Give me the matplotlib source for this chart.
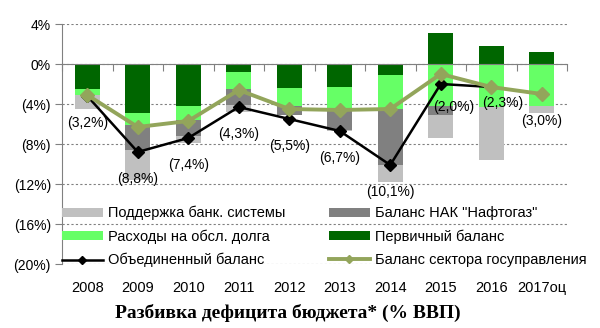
import numpy as np
import matplotlib
matplotlib.use("Agg")
import matplotlib.pyplot as plt

plt.rcParams['font.family'] = ['Liberation Sans', 'DejaVu Sans']

years = ['2008', '2009', '2010', '2011', '2012', '2013', '2014', '2015', '2016', '2017оц']
primary = [-2.5, -4.9, -4.2, -0.8, -2.4, -2.3, -1.1, 3.1, 1.8, 1.2]
debt = [-0.6, -1.2, -1.4, -1.7, -1.8, -2.2, -3.4, -4.2, -4.3, -4.2]
naftogaz = [0.0, -2.5, -1.6, -1.6, -0.9, -2.1, -5.6, -0.9, 0.0, 0.0]
bank = [-1.4, -3.0, -0.7, -0.7, 0.0, -0.1, -1.7, -2.3, -5.3, -0.7]
combined = [-3.2, -8.8, -7.4, -4.3, -5.5, -6.7, -10.1, -2.0, -2.3, np.nan]
gov = [-3.1, -6.3, -5.7, -2.6, -4.5, -4.6, -4.5, -1.0, -2.3, -3.0]
label_vals = [3.2, 8.8, 7.4, 4.3, 5.5, 6.7, 10.1, 2.0, 2.3, 3.0]
label_on = ['c', 'c', 'c', 'c', 'c', 'c', 'c', 'c', 'c', 'g']

c_bank = '#C0C0C0'
c_naft = '#808080'
c_debt = '#66FF66'
c_prim = '#006600'
c_gov = '#93A55B'

fig = plt.figure(figsize=(6, 3.28), dpi=100)
ax = fig.add_axes([62/600, 1 - 264/328, 505/600, 240/328])

x = np.arange(len(years))
w = 0.5
prim = np.array(primary)
base = np.minimum(prim, 0)
ax.bar(x, prim, w, color=c_prim, label='Первичный баланс', zorder=2)
ax.bar(x, debt, w, bottom=base, color=c_debt, label='Расходы на обсл. долга', zorder=2)
base = base + np.array(debt)
ax.bar(x, naftogaz, w, bottom=base, color=c_naft, label='Баланс НАК "Нафтогаз"', zorder=2)
base = base + np.array(naftogaz)
ax.bar(x, bank, w, bottom=base, color=c_bank, label='Поддержка банк. системы', zorder=2)

ax.plot(x, combined, color='black', lw=1.8, marker='D', ms=6.5, label='Объединенный баланс', zorder=3)
ax.plot(x, gov, color=c_gov, lw=2.8, marker='D', ms=7.5, label='Баланс сектора госуправления', zorder=4)

offsets = [(0, -27)] * 7 + [(13, -23), (11, -16), (0, -27)]
for i, v in enumerate(label_vals):
    yv = combined[i] if label_on[i] == 'c' else gov[i]
    txt = '(' + f'{v:.1f}'.replace('.', ',') + '%)'
    ax.annotate(txt, (x[i], yv), xytext=offsets[i], textcoords='offset pixels',
                ha='center', va='center', fontsize=10, zorder=5)

ax.set_xlim(-0.5, len(years) - 0.5)
ax.set_ylim(-20, 4)
yt = [4, 0, -4, -8, -12, -16, -20]
ax.set_yticks(yt, [f'{v}%' if v >= 0 else f'({-v}%)' for v in yt])
ax.tick_params(axis='y', length=5, color='#808080', labelsize=10, pad=3)
ax.grid(axis='y', color='#808080', linestyle=(0, (2, 2)), lw=0.8)
ax.set_axisbelow(True)

ax.spines['top'].set_visible(False)
ax.spines['right'].set_visible(False)
ax.spines['left'].set_color('#808080')
ax.spines['bottom'].set_position(('data', 0))
ax.spines['bottom'].set_color('#808080')
ax.set_xticks(np.arange(len(years) + 1) - 0.5, [''] * (len(years) + 1))
ax.tick_params(axis='x', direction='out', length=5, color='#808080')

sec = ax.secondary_xaxis('bottom')
sec.set_xticks(x, years)
sec.tick_params(length=0, pad=12, labelsize=10.5)
sec.spines['bottom'].set_visible(False)

h, l = ax.get_legend_handles_labels()
order = ['Поддержка банк. системы', 'Расходы на обсл. долга', 'Объединенный баланс',
         'Баланс НАК "Нафтогаз"', 'Первичный баланс', 'Баланс сектора госуправления']
hd = dict(zip(l, h))
fig.legend([hd[k] for k in order], order, ncol=2, loc='upper left',
           bbox_to_anchor=(62/600, 1 - 206/328), frameon=False, fontsize=10.5,
           borderpad=0, borderaxespad=0, handlelength=2.8, handleheight=0.55,
           handletextpad=0.35, columnspacing=3.0, labelspacing=0.62, markerscale=0.6)

fig.text(288/600, 1 - 313/328, 'Разбивка дефицита бюджета* (% ВВП)', ha='center', va='center',
         fontfamily='Liberation Serif', fontweight='bold', fontsize=14)

fig.savefig('out.png', dpi=100)
